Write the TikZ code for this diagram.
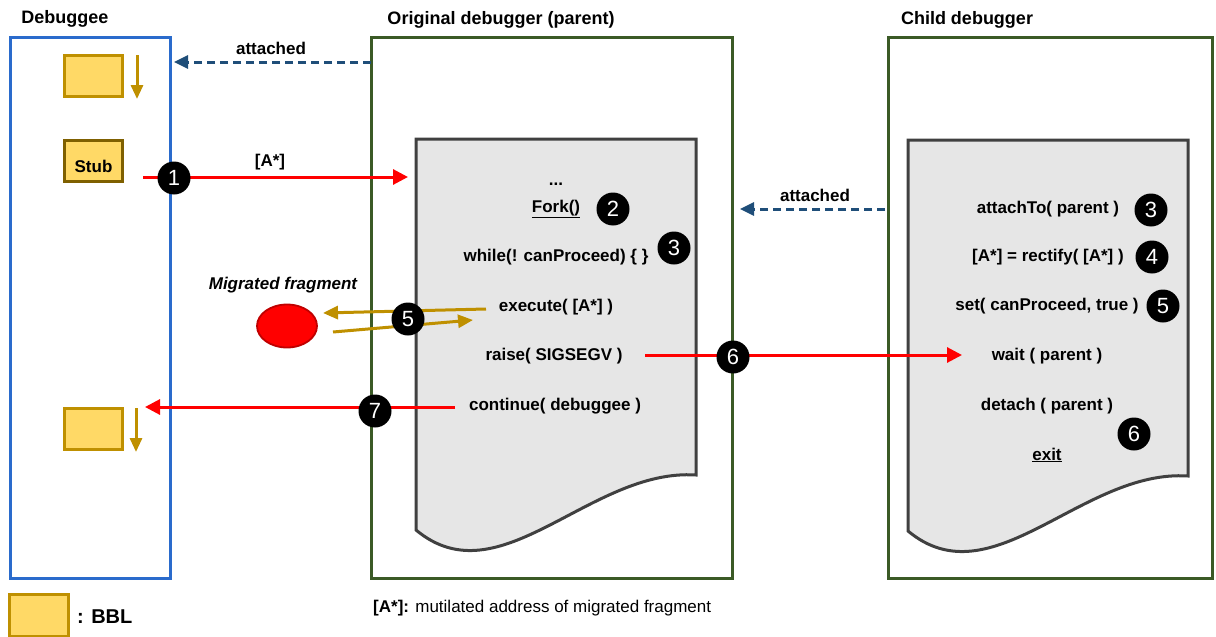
\documentclass[tikz,border=0pt]{standalone}
\usepackage{fontspec}
\setmainfont{Liberation Sans}
\usetikzlibrary{arrows.meta,shapes.geometric}
\definecolor{laneblue}{HTML}{2A6BCC}
\definecolor{lanegreen}{HTML}{3B5A26}
\definecolor{bblfill}{HTML}{FFD966}
\definecolor{bbledge}{HTML}{BF9000}
\definecolor{stubedge}{HTML}{7F6000}
\definecolor{attachblue}{HTML}{1F4E79}
\definecolor{docfill}{HTML}{E6E6E6}
\definecolor{docedge}{HTML}{404040}
\definecolor{fragedge}{HTML}{C00000}
\tikzset{
  txt/.style={font=\bfseries\fontsize{17}{20}\selectfont, inner sep=0pt},
  title/.style={font=\bfseries\fontsize{18}{21}\selectfont, inner sep=0pt},
  num/.style={circle, fill=black, text=white, minimum size=33pt, inner sep=0pt,
    font=\fontsize{22}{22}\selectfont},
  bbl/.style={draw=bbledge, fill=bblfill, line width=3pt, minimum width=58pt,
    minimum height=41pt, inner sep=0pt},
  lane/.style={line width=3pt},
  docpage/.style={fill=docfill, draw=docedge, line width=3pt},
  redarrow/.style={draw=red, line width=3pt, -{Triangle[length=15pt,width=15pt]}},
  goldarrow/.style={draw=bbledge, line width=3pt, -{Triangle[length=15pt,width=13pt]}},
  attacharrow/.style={draw=attachblue, line width=3pt, dash pattern=on 8pt off 5pt,
    -{Triangle[length=14pt,width=13pt]}},
}
\begin{document}
\begin{tikzpicture}[x=1pt,y=-1pt]
\useasboundingbox (0,0) rectangle (1216,637);

% swim lanes
\draw[lane, draw=laneblue] (10,37) rectangle (170,578);
\draw[lane, draw=lanegreen] (371,37) rectangle (732,578);
\draw[lane, draw=lanegreen] (888,37) rectangle (1212,578);
\node[title] (tdebuggee) at (65,19) {Debuggee};
\node[title] (tparent) at (501,20) {Original debugger (parent)};
\node[title] (tchild) at (967,20) {Child debugger};

% code pages
\draw[docpage] (416,139) -- (696,139) -- (696,475)
  .. controls (590,468) and (500,600) .. (416,530) -- cycle;
\draw[docpage] (908,140) -- (1188,140) -- (1188,476)
  .. controls (1082,469) and (992,601) .. (908,531) -- cycle;

% basic blocks of the debuggee
\node[bbl] (bbltop) at (93.5,76) {};
\node[bbl, draw=stubedge] (stub) at (93.5,160.5) {};
\node[txt] (stubtxt) at (93.5,166) {Stub};
\node[bbl] (bblbot) at (93,429) {};
\draw[goldarrow, -{Triangle[length=14pt,width=12pt]}] (137,55) -- (137,99);
\draw[goldarrow, -{Triangle[length=14pt,width=12pt]}] (136,408) -- (136,452);

% parent code
\node[txt] (dots) at (556,184) {...};
\node[txt] (fork) at (556,209) {\underline{Fork()}};
\node[txt] (wait) at (556,257) {while(! canProceed) \{ \}};
\node[txt] (exec) at (556,307) {execute( [A*] )};
\node[txt] (raise) at (554,356) {raise( SIGSEGV )};
\node[txt] (cont) at (555,406) {continue( debuggee )};

% child code
\node[txt] (attach) at (1048,209) {attachTo( parent )};
\node[txt] (rect) at (1048,257) {[A*] = rectify( [A*] )};
\node[txt] (setp) at (1047,306) {set( canProceed, true )};
\node[txt] (cwait) at (1047,356) {wait ( parent )};
\node[txt] (detach) at (1047,406) {detach ( parent )};
\node[txt] (exit) at (1047,455) {\underline{exit}};

% migrated fragment
\node[txt, font=\bfseries\itshape\fontsize{17}{20}\selectfont] (fraglabel) at (283,285) {Migrated fragment};
\node[ellipse, fill=red, draw=fragedge, line width=1.8pt, minimum width=60pt,
  minimum height=43pt, inner sep=0pt] (frag) at (287,326) {};

% attachment links
\coordinate (att1s) at (371,62);
\coordinate (att1e) at (174,62);
\draw[attacharrow] (att1s) -- (att1e);
\node[txt] (att1l) at (271,48) {attached};
\coordinate (att2s) at (885,209);
\coordinate (att2e) at (740,209);
\draw[attacharrow] (att2s) -- (att2e);
\node[txt] (att2l) at (815,195) {attached};

% control flow
\coordinate (a1s) at (143,177);
\coordinate (a1e) at (408,177);
\draw[redarrow] (a1s) -- (a1e);
\node[txt] (a1l) at (270,162) {[A*]};

\coordinate (a6s) at (645,355);
\coordinate (a6e) at (962,355);
\draw[redarrow] (a6s) -- (a6e);

\coordinate (a7s) at (455,407);
\coordinate (a7e) at (145,407);
\draw[redarrow] (a7s) -- (a7e);

\coordinate (g1s) at (486,309);
\coordinate (g1e) at (323,313);
\draw[goldarrow] (g1s) -- (g1e);
\coordinate (g2s) at (333,332);
\coordinate (g2e) at (473,320);
\draw[goldarrow] (g2s) -- (g2e);

% step numbers
\node[num] (n1) at (174,178) {1};
\node[num] (n2) at (613,209) {2};
\node[num] (n3) at (674,248) {3};
\node[num] (n5) at (408,319) {5};
\node[num] (n6) at (733,357) {6};
\node[num] (n7) at (375,411) {7};
\node[num] (c3) at (1151,210) {3};
\node[num] (c4) at (1152,257) {4};
\node[num] (c5) at (1163,306) {5};
\node[num] (c6) at (1134,434) {6};

% legend
\node[bbl, minimum width=59pt, minimum height=42pt] (legbbl) at (38.5,615) {};
\node[font=\bfseries\fontsize{20}{22}\selectfont, inner sep=0pt, anchor=west] (legtxt) at (77,617) {: BBL};
\node[font=\fontsize{17}{20}\selectfont, inner sep=0pt, anchor=west] (foot) at (373,608)
  {\textbf{[A*]:} mutilated address of migrated fragment};
\end{tikzpicture}
\end{document}
